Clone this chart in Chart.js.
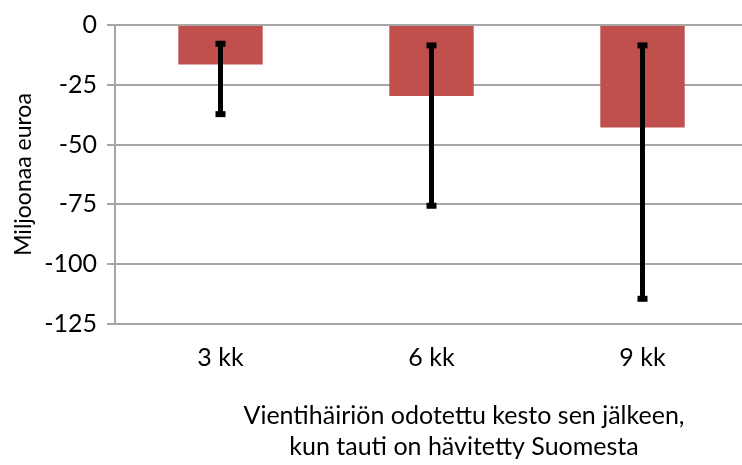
<!DOCTYPE html>
<html>
<head>
<meta charset="utf-8">
<script src="https://cdn.jsdelivr.net/npm/chart.js@4/dist/chart.umd.min.js"></script>
<style>
  html, body { margin: 0; padding: 0; background: #fff; overflow: hidden; }
  #wrap { width: 742px; height: 465px; overflow: hidden; }
</style>
</head>
<body>
<div id="wrap"><canvas id="chart" width="760" height="465"></canvas></div>
<script>
// chart data
const labels = ["3 kk", "6 kk", "9 kk"];
const values = [-16.5, -29.7, -42.8];
const errTop = [-7.0, -7.7, -7.7];
const errBottom = [-38.1, -76.4, -115.3];
const yTitle = "Miljoonaa euroa";
const xTitle = ["Vientihäiriön odotettu kesto sen jälkeen,", "kun tauti on hävitetty Suomesta"];

const FONT = "Lato, 'Open Sans', sans-serif";
const GRID = "#a6a6a6";

// draws black error bars with square caps on top of the bars
const errorBars = {
  id: "errorBars",
  afterDatasetsDraw(chart) {
    const meta = chart.getDatasetMeta(0);
    const y = chart.scales.y;
    const ctx = chart.ctx;
    ctx.save();
    ctx.fillStyle = "#000";
    meta.data.forEach((bar, i) => {
      const top = y.getPixelForValue(errTop[i]);
      const bot = y.getPixelForValue(errBottom[i]);
      ctx.fillRect(bar.x - 2.5, top, 5, bot - top);
      ctx.fillRect(bar.x - 5, top - 1, 10, 6);
      ctx.fillRect(bar.x - 5, bot - 5, 10, 6);
    });
    ctx.restore();
  },
};

// x axis title, two lines under the category labels
const xAxisTitle = {
  id: "xAxisTitle",
  afterDraw(chart) {
    const ctx = chart.ctx;
    ctx.save();
    ctx.font = "25px " + FONT;
    ctx.fillStyle = "#000";
    ctx.textAlign = "center";
    ctx.textBaseline = "middle";
    xTitle.forEach((line, i) => ctx.fillText(line, 464, 416 + i * 31));
    ctx.restore();
  },
};

new Chart(document.getElementById("chart").getContext("2d"), {
  type: "bar",
  data: {
    labels: labels,
    datasets: [
      {
        data: values,
        backgroundColor: "#c0504d",
        barPercentage: 0.4,
        categoryPercentage: 1.0,
      },
    ],
  },
  options: {
    responsive: false,
    animation: false,
    layout: { padding: { top: 23, right: 12, bottom: 0, left: 0 } },
    plugins: { legend: { display: false }, tooltip: { enabled: false } },
    scales: {
      x: {
        grid: { display: false, drawTicks: false },
        border: { display: true, color: GRID, width: 2 },
        ticks: { color: "#000", padding: 19, font: { family: FONT, size: 25 } },
        afterFit: (s) => { s.height = 141; },
      },
      y: {
        min: -125,
        max: 0,
        ticks: { stepSize: 25, color: "#000", padding: 10, font: { family: FONT, size: 25 } },
        grid: { color: GRID, lineWidth: 2, tickLength: 8, drawTicks: true },
        border: { display: true, color: GRID, width: 2 },
        title: {
          display: true,
          text: yTitle,
          color: "#000",
          font: { family: FONT, size: 23 },
          padding: { top: 10, bottom: 0 },
        },
        afterFit: (s) => { s.width = 115; },
      },
    },
  },
  plugins: [errorBars, xAxisTitle],
});
</script>
</body>
</html>
